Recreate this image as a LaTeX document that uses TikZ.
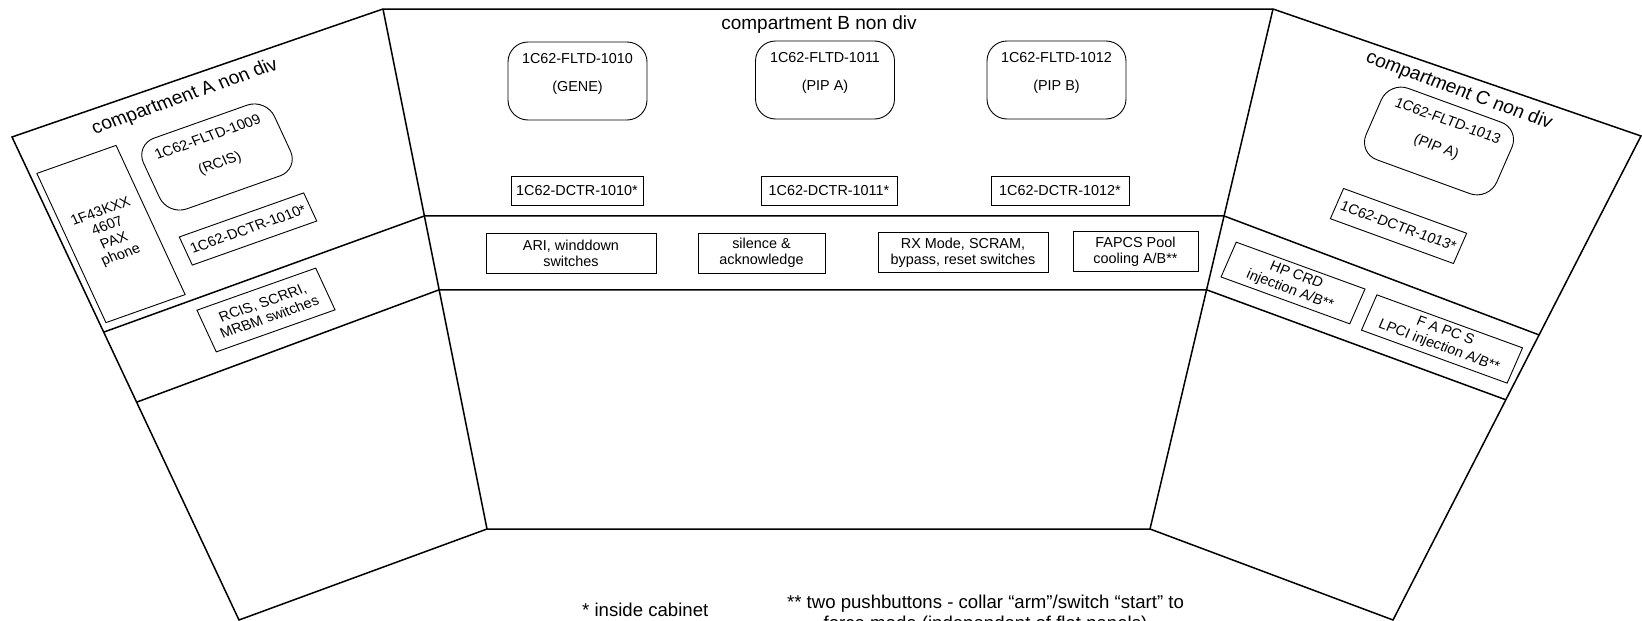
\documentclass[tikz,border=0pt]{standalone}
\usepackage{fontspec}
\setmainfont{Liberation Sans}
\usetikzlibrary{calc}

\tikzset{
  wall/.style={line width=1.5pt, line join=miter},
  boxstyle/.style={draw, line width=0.9pt, inner sep=0pt, align=center,
    font=\fontsize{14.4}{16}\selectfont},
  fltd/.style={boxstyle, rounded corners=20pt, minimum width=139pt, minimum height=78pt},
  dctr/.style={boxstyle, minimum width=134pt, minimum height=29pt},
  swbox/.style={boxstyle, minimum height=40pt},
  lbl/.style={inner sep=0pt, font=\fontsize{14.4}{16}\selectfont},
  title/.style={inner sep=0pt, font=\fontsize{19}{22}\selectfont},
  note/.style={inner sep=0pt, align=center, font=\fontsize{18.6}{21}\selectfont},
  % oblique frames of the two side consoles
  skewA/.style={cm={0.9426,0.3338,-0.42,0.907,(0,0)}},
  skewC/.style={cm={0.9397,-0.342,0.40,0.916,(0,0)}},
}

\begin{document}
\begin{tikzpicture}[x=1pt,y=-1pt]
\useasboundingbox (0,0) rectangle (1642,621);
\clip (0,0) rectangle (1642,621);

% console outline
\coordinate (TLA) at (12,137);
\coordinate (TLB) at (383,9);
\coordinate (TRB) at (1273,9);
\coordinate (TRC) at (1641,136);
\coordinate (BRC) at (1393,620);
\coordinate (BRB) at (1150,529);
\coordinate (BLB) at (487,529);
\coordinate (BLA) at (239,620);

\coordinate (A1L) at ($(TLA)!0.404!(BLA)$);
\coordinate (A2L) at ($(TLA)!0.549!(BLA)$);
\coordinate (A1R) at ($(TLB)!0.398!(BLB)$);
\coordinate (A2R) at ($(TLB)!0.540!(BLB)$);
\coordinate (C1L) at ($(TRB)!0.398!(BRB)$);
\coordinate (C2L) at ($(TRB)!0.540!(BRB)$);
\coordinate (C1R) at ($(TRC)!0.411!(BRC)$);
\coordinate (C2R) at ($(TRC)!0.545!(BRC)$);

\draw[wall] (TLA) -- (TLB) -- (TRB) -- (TRC) -- (BRC) -- (BRB) -- (BLB) -- (BLA) -- cycle;
\draw[wall] (TLB) -- (BLB);
\draw[wall] (TRB) -- (BRB);
\draw[wall] (A1L) -- (A1R) -- (C1L) -- (C1R);
\draw[wall] (A2L) -- (A2R) -- (C2L) -- (C2R);

% compartment B
\node[title] (tB) at (819,25) {compartment B non div};

\node[fltd] (fl1010) at (577.5,81) {};
\node[fltd] (fl1011) at (825,80) {};
\node[fltd] (fl1012) at (1056.5,80) {};
\foreach \n/\a/\b in {fl1010/1C62-FLTD-1010/(GENE), fl1011/1C62-FLTD-1011/(PIP A), fl1012/1C62-FLTD-1012/(PIP B)}{
  \node[lbl] (\n a) at ($(\n.center)!0.564!(\n.north)$) {\a};
  \node[lbl] (\n b) at ($(\n.center)!0.18!(\n.south)$) {\b};
}

\node[dctr, minimum width=132pt] (dc1010) at (577,190.5) {1C62-DCTR-1010*};
\node[dctr, minimum width=136pt] (dc1011) at (829,191) {1C62-DCTR-1011*};
\node[dctr, minimum width=138pt] (dc1012) at (1060,191) {1C62-DCTR-1012*};

\node[swbox, minimum width=170pt] (swari) at (571,253) {ARI, winddown\\switches};
\node[swbox, minimum width=127pt] (swsil) at (761.5,253) {silence \&\\acknowledge};
\node[swbox, minimum width=170pt] (swrx) at (963,252.5) {RX Mode, SCRAM,\\bypass, reset switches};
\node[swbox, minimum width=125pt] (swfap) at (1135.5,251.5) {FAPCS Pool\\cooling A/B**};

% compartment A
\node[title, skewA] (tA) at (185,97) {compartment A non div};
\node[boxstyle, skewA, minimum width=84pt, minimum height=164.5pt] (phone) at (111,234) {1F43KXX\\4607\\PAX\\phone};
\node[fltd, skewA] (fl1009) at (217,157) {};
\node[lbl, skewA] (fl1009a) at ($(fl1009.center)!0.564!(fl1009.north)$) {1C62-FLTD-1009};
\node[lbl, skewA] (fl1009b) at ($(fl1009.center)!0.18!(fl1009.south)$) {(RCIS)};
\node[dctr, skewA, minimum width=132pt, minimum height=31pt] (dcA) at (248,229) {1C62-DCTR-1010*};
\node[swbox, skewA, minimum width=126pt, minimum height=46pt] (swA) at (266,310) {RCIS, SCRRI,\\MRBM switches};

% compartment C
\node[title, skewC] (tC) at (1459,91) {compartment C non div};
\node[fltd, skewC] (fl1013) at (1439,141) {};
\node[lbl, skewC] (fl1013a) at ($(fl1013.center)!0.564!(fl1013.north)$) {1C62-FLTD-1013};
\node[lbl, skewC] (fl1013b) at ($(fl1013.center)!0.18!(fl1013.south)$) {(PIP A)};
\node[dctr, skewC, minimum width=131pt, minimum height=33pt] (dc1013) at (1398.5,226) {1C62-DCTR-1013*};
\node[swbox, skewC, minimum width=137pt, minimum height=38pt] (swhp) at (1293,283) {HP CRD\\injection A/B**};
\node[swbox, skewC, minimum width=155pt, minimum height=38.5pt] (swlp) at (1442,339) {F A PC S\\LPCI injection A/B**};

% footnotes
\node[note, anchor=base west] (n1) at (582,616) {* inside cabinet};
\node[note, anchor=north] (n2) at (985.5,594.5) {** two pushbuttons - collar “arm”/switch “start” to\\force mode (independent of flat panels)};
\end{tikzpicture}
\end{document}
